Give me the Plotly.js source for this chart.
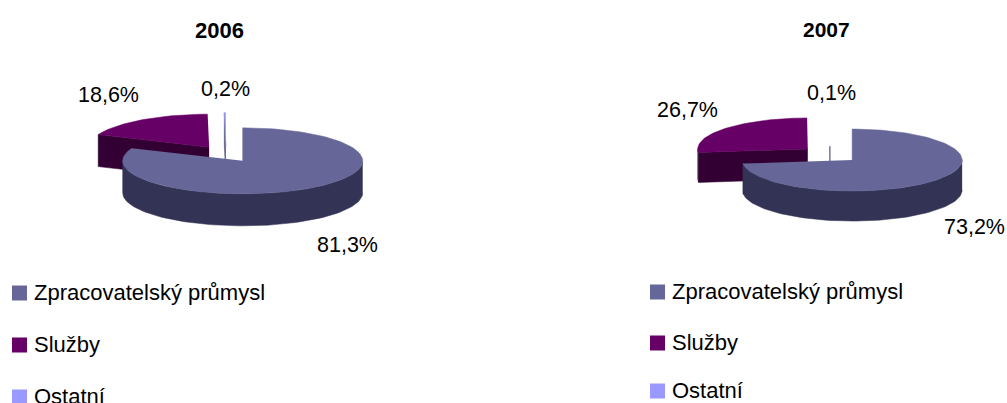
<!DOCTYPE html>
<html><head><meta charset="utf-8">
<script src="https://cdn.plot.ly/plotly-3.0.1.min.js"></script>
<style>html,body{margin:0;padding:0;background:#fff;overflow:hidden}#c{width:1007px;height:403px}</style>
</head><body><div id="c"></div>
<script>
var categories = ["Zpracovatelský průmysl", "Služby", "Ostatní"];
var years = ["2006", "2007"];
var values2006 = [81.3, 18.6, 0.2];
var values2007 = [73.2, 26.7, 0.1];
var topColors = ["#666699", "#660066", "#9999FF"];
var wallColors = ["#333355", "#330033", "#4D4D80"];

var W = 1007, H = 403, FONT = "Liberation Sans, Arial, sans-serif";
var pies = [
  {values: values2006, title: years[0], cx: 226, cy: 154, rx: 120, ry: 33, depth: 32, explode: 0.25,
   titlePos: [219, 30], titleSize: 22, labelPos: [[347, 245], [108, 95], [225, 89]],
   swatchX: 19.5, textX: 31.5, rows: [293, 345, 397]},
  {values: values2007, title: years[1], cx: 830, cy: 154.5, rx: 110, ry: 31, depth: 30, explode: 0.27,
   titlePos: [826, 29], titleSize: 21, labelPos: [[974, 227], [687, 110], [831, 93]],
   swatchX: 657.5, textX: 669.5, rows: [292, 343, 391]}
];
var MIN_FACE_SWEEP = 0.5; // a slice narrower than this many degrees falls below one pixel
var RAD = Math.PI / 180;
function pt(p, ox, oy, deg, dz) {
  return [ox + p.rx * Math.sin(deg * RAD), oy - p.ry * Math.cos(deg * RAD) + (dz || 0)];
}
function arc(p, ox, oy, a, b, dz) {
  var out = [], n = Math.max(2, Math.ceil(Math.abs(b - a) / 2));
  for (var i = 0; i <= n; i++) out.push(pt(p, ox, oy, a + (b - a) * i / n, dz));
  return out;
}
function poly(points, color, name) {
  return {type: "scatter", mode: "lines", x: points.map(function (q) { return q[0]; }),
    y: points.map(function (q) { return q[1]; }), fill: "toself", fillcolor: color,
    line: {width: 0.5, color: color}, showlegend: false, name: name, hoverinfo: "name"};
}
var traces = [], annotations = [];
function text(x, y, s, size, bold, anchor) {
  annotations.push({x: x, y: y, xref: "x", yref: "y", text: bold ? "<b>" + s + "</b>" : s, showarrow: false,
    xanchor: anchor || "center", yanchor: "middle", font: {family: FONT, size: size, color: "#000"}});
}
pies.forEach(function (p) {
  var total = p.values.reduce(function (s, v) { return s + v; }, 0), start = 0, slices = [];
  p.values.forEach(function (v, i) {
    var sweep = v / total * 360, a = start, b = start + sweep, mid = (a + b) / 2;
    slices.push({i: i, a: a, b: b,
      ox: p.cx + p.explode * p.rx * Math.sin(mid * RAD),
      oy: p.cy - p.explode * p.ry * Math.cos(mid * RAD)});
    start = b;
  });
  [2, 1, 0].forEach(function (k) {
    var s = slices[k], name = categories[s.i], wall = wallColors[s.i], apex = [s.ox, s.oy];
    var visibleFace = s.b - s.a >= MIN_FACE_SWEEP;
    if (!visibleFace) {
      // only the inner edge of a hair-thin slice shows, from its apex downwards
      var line = poly([apex, [apex[0], apex[1] + p.depth]], wall, name);
      line.fill = "none";
      line.line = {width: 1, color: "#333366"};
      traces.push(line);
    } else if (Math.sin(s.a * RAD) < 0) {
      var q = pt(p, s.ox, s.oy, s.a);
      traces.push(poly([apex, q, [q[0], q[1] + p.depth], [apex[0], apex[1] + p.depth]], wall, name));
    }
    if (Math.sin(s.b * RAD) > 0 && s.b < 180) {
      var e = pt(p, s.ox, s.oy, s.b);
      traces.push(poly([apex, e, [e[0], e[1] + p.depth], [apex[0], apex[1] + p.depth]], wall, name));
    }
    var lo = Math.max(s.a, 90), hi = Math.min(s.b, 270);
    if (hi > lo) {
      traces.push(poly(arc(p, s.ox, s.oy, lo, hi).concat(arc(p, s.ox, s.oy, hi, lo, p.depth)), wall, name));
    }
    if (visibleFace) {
      traces.push(poly([apex].concat(arc(p, s.ox, s.oy, s.a, s.b)), topColors[s.i], name));
    }
  });
  text(p.titlePos[0], p.titlePos[1], p.title, p.titleSize, true);
  p.values.forEach(function (v, i) {
    text(p.labelPos[i][0], p.labelPos[i][1], v.toFixed(1).replace(".", ",") + "%", 21.5, false);
  });
  categories.forEach(function (c, i) {
    traces.push({type: "scatter", mode: "markers", x: [p.swatchX], y: [p.rows[i]], showlegend: false,
      marker: {symbol: "square", size: 15, color: topColors[i]}, name: c, hoverinfo: "name"});
    text(p.textX, p.rows[i] - 1, c, 22, false, "left");
  });
});
Plotly.newPlot("c", traces, {
  width: W, height: H, margin: {l: 0, r: 0, t: 0, b: 0}, paper_bgcolor: "#fff", plot_bgcolor: "#fff",
  showlegend: false, annotations: annotations,
  xaxis: {range: [0, W], visible: false, fixedrange: true},
  yaxis: {range: [H, 0], visible: false, fixedrange: true}
}, {displayModeBar: false, staticPlot: true});
</script></body></html>
